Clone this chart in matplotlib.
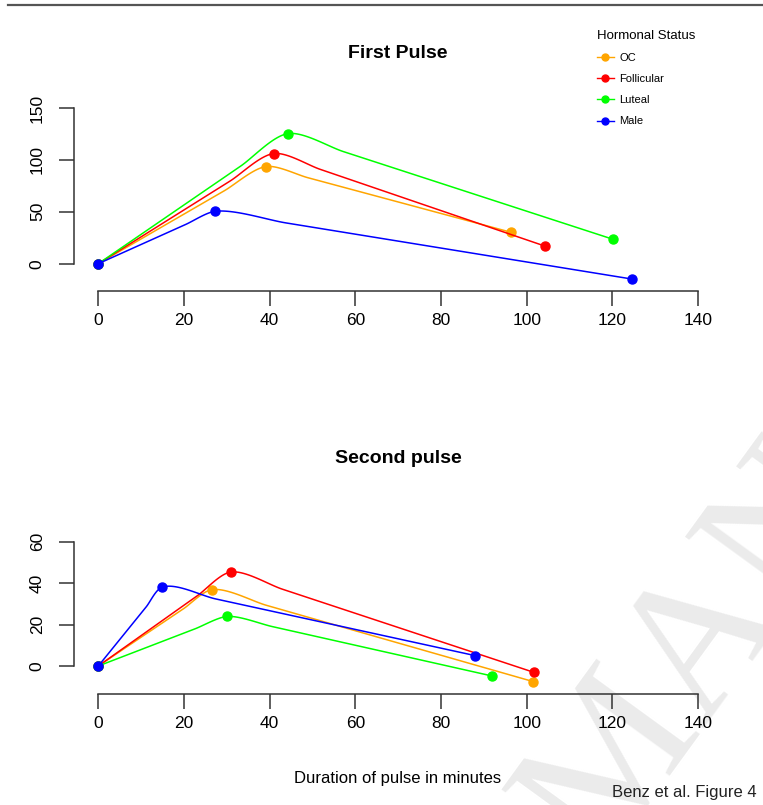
import numpy as np
import matplotlib.pyplot as plt
from matplotlib.lines import Line2D

plt.rcParams['font.family'] = ['Liberation Sans', 'DejaVu Sans']

# data (minutes, change from baseline)
groups = ['OC', 'Follicular', 'Luteal', 'Male']
colors = ['#FFA500', '#FF0000', '#00FF00', '#0000FF']

first_x = [[0, 39.2, 96.3], [0, 41.0, 104.3], [0, 44.3, 120.1], [0, 27.2, 124.6]]
first_y = [[0, 93.6, 30.3], [0, 106.1, 16.9], [0, 125.3, 23.6], [0, 50.4, -14.8]]

second_x = [[0, 26.5, 101.5], [0, 30.9, 101.6], [0, 30.1, 91.9], [0, 14.9, 88.0]]
second_y = [[0, 36.8, -7.5], [0, 45.3, -3.0], [0, 23.9, -4.8], [0, 38.0, 5.0]]

x_ticks = [0, 20, 40, 60, 80, 100, 120, 140]


def hermite(p, q, m0, m1, n=30):
    t = np.linspace(0, 1, n)[:, None]
    h00 = 2 * t**3 - 3 * t**2 + 1
    h10 = t**3 - 2 * t**2 + t
    h01 = -2 * t**3 + 3 * t**2
    h11 = t**3 - t**2
    return h00 * p + h10 * m0 + h01 * q + h11 * m1


def smooth_line(ax, xs, ys, f_in=0.25, f_out=0.17):
    # straight legs, smooth turn through the peak (done in pixel space)
    pts = ax.transData.transform(np.column_stack([xs, ys]))
    p0, p, p2 = pts
    a = p + f_in * (p0 - p)
    b = p + f_out * (p2 - p)
    u1 = (p - p0) / np.linalg.norm(p - p0)
    u2 = (p2 - p) / np.linalg.norm(p2 - p)
    d = (u1 + u2) / np.linalg.norm(u1 + u2)
    la = np.linalg.norm(p - a)
    lb = np.linalg.norm(b - p)
    seg1 = hermite(a, p, u1 * la * 0.8, d * la * 0.8)
    seg2 = hermite(p, b, d * lb * 0.8, u2 * lb * 0.8)
    path = np.vstack([p0, seg1, seg2[1:], p2])
    return ax.transData.inverted().transform(path)


def style(ax, ylim, yticks):
    ax.set_xlim(-5.67, 145.6)
    ax.set_ylim(*ylim)
    ax.patch.set_visible(False)
    for s in ['top', 'right']:
        ax.spines[s].set_visible(False)
    ax.spines['left'].set_bounds(yticks[0], yticks[-1])
    ax.spines['bottom'].set_bounds(0, 140)
    for s in ['left', 'bottom']:
        ax.spines[s].set_color('#333333')
        ax.spines[s].set_linewidth(1.1)
    ax.set_xticks(x_ticks)
    ax.set_yticks(yticks)
    ax.tick_params(length=11, width=1.1, color='#333333', labelsize=12.5)
    ax.tick_params(axis='x', pad=5)
    ax.tick_params(axis='y', pad=10, labelrotation=90)
    for lab in ax.get_yticklabels():
        lab.set_va('center')


fig = plt.figure(figsize=(7.63, 8.05), dpi=100)
W, H = 763, 805

ax1 = fig.add_axes([74 / W, 1 - 291 / H, 648 / W, 190 / H])
ax2 = fig.add_axes([74 / W, 1 - 694 / H, 648 / W, 158 / H])
style(ax1, (-26.3, 156.7), [0, 50, 100, 150])
style(ax2, (-13.5, 62.7), [0, 20, 40, 60])

for ax, xs_all, ys_all in [(ax1, first_x, first_y), (ax2, second_x, second_y)]:
    for xs, ys, col in zip(xs_all, ys_all, colors):
        curve = smooth_line(ax, xs, ys)
        ax.plot(curve[:, 0], curve[:, 1], color=col, lw=1.1)
        ax.plot(xs, ys, 'o', color=col, ms=6.5, mec=col)

fig.text(398 / W, 1 - 54 / H, 'First Pulse', ha='center', va='center',
         fontsize=14, fontweight='bold')
fig.text(398 / W, 1 - 458 / H, 'Second pulse', ha='center', va='center',
         fontsize=14, fontweight='bold')
fig.text(398 / W, 1 - 783 / H, 'Duration of pulse in minutes', ha='center',
         va='baseline', fontsize=12)
fig.text(757 / W, 1 - 797 / H, 'Benz et al. Figure 4', ha='right',
         va='baseline', fontsize=12, color='#222222')

handles = [Line2D([], [], color=c, marker='o', ms=5, lw=1) for c in colors]
fig.legend(handles, groups, title='Hormonal Status', loc='upper left',
           bbox_to_anchor=(597 / W, 1 - 30 / H), frameon=False, fontsize=8,
           title_fontsize=9.5, labelspacing=1.0, handlelength=1.5,
           handletextpad=0.5, borderaxespad=0, borderpad=0, alignment='left')

# page rule at the top
fig.add_artist(Line2D([8 / W, 1], [1 - 5.5 / H, 1 - 5.5 / H], color='#555555', lw=1.6))

# watermark
fig.text(600 / W, -60 / H, 'MANUSCRIPT', rotation=54, rotation_mode='anchor',
         ha='left', va='baseline', fontsize=140, color='#ebebeb',
         family='Liberation Serif', zorder=-1)

fig.savefig('out.png', dpi=100)
